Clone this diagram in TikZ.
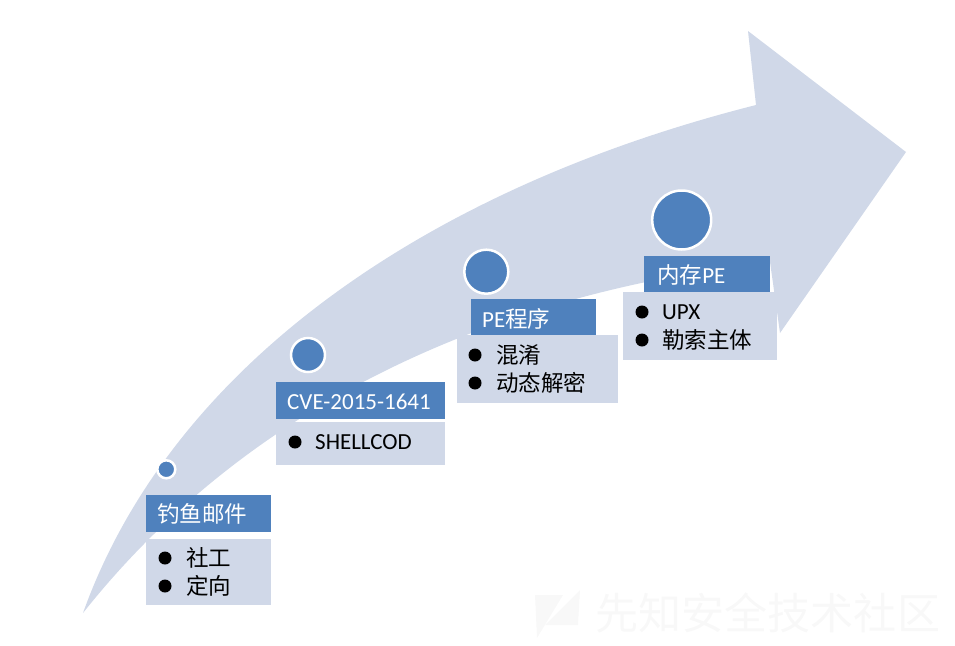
\documentclass[tikz,border=0pt]{standalone}
\usepackage{fontspec}
\setmainfont{Carlito}
\newfontfamily\cjk{Noto Sans CJK SC}[Scale=0.98]
\usetikzlibrary{calc, positioning}
\definecolor{stepBlue}{HTML}{4F81BD}
\definecolor{stepPale}{HTML}{D0D8E8}
\definecolor{markFaint}{HTML}{F8F8F8}
\tikzset{
    headBox/.style={rectangle, fill=stepBlue, inner sep=0pt, anchor=north west},
    bodyBox/.style={rectangle, fill=stepPale, inner sep=0pt, anchor=north west},
    headText/.style={anchor=west, inner sep=0pt, text=white, font=\fontsize{23}{25}\selectfont},
    bodyText/.style={anchor=west, inner sep=0pt, text=black, font=\fontsize{23}{25}\selectfont},
    stepDot/.style={circle, fill=stepBlue, draw=white, line width=2.5pt, inner sep=0pt},
    bulletDot/.style={circle, fill=black, inner sep=0pt, minimum size=13pt},
}
% name, x, y, width, height
\newcommand{\drawHead}[5]{
    \node[headBox, minimum width=#4pt, minimum height=#5pt] (#1) at (#2, #3) {};
}
\newcommand{\drawBody}[5]{
    \node[bodyBox, minimum width=#4pt, minimum height=#5pt] (#1) at (#2, #3) {};
}
% name, bullet x, text x, y, text
\newcommand{\drawItem}[5]{
    \node[bulletDot] (#1Dot) at (#2, #4) {};
    \node[bodyText] (#1Text) at (#3, #4) {#5};
}

\begin{document}
\begin{tikzpicture}[x=1pt, y=-1pt]
        \useasboundingbox (0, 0) rectangle (955, 645);

        % big arrow
        \fill[stepPale] (83, 613) .. controls (170, 370) and (420, 190) .. (756, 105)
            -- (748, 31) -- (906, 152) -- (780, 333) -- (770, 262)
            .. controls (440, 300) and (220, 440) .. cycle;

        % watermark
        \fill[markFaint] (535, 595) -- (563, 595) -- (537, 638) -- cycle;
        \fill[markFaint] (580, 590) -- (578, 625) -- (545, 625) -- cycle;
        \node[anchor=west, inner sep=0pt, text=markFaint, font=\cjk\fontsize{44}{46}\selectfont] (mark) at (595, 613) {先知安全技术社区};

        % phishing
        \node[stepDot, minimum size=18pt] (dotA) at (166.3, 469.3) {};
        \drawHead{headA}{146}{495}{125}{37}
        \drawBody{bodyA}{146}{539}{125}{66}
        \node[headText] (titleA) at (157, 514) {\cjk 钓鱼邮件};
        \drawItem{itemAa}{165}{186}{558}{\cjk 社工}
        \drawItem{itemAb}{165}{186}{586}{\cjk 定向}

        % exploit
        \node[stepDot, minimum size=34pt] (dotB) at (308, 355) {};
        \drawHead{headB}{276}{382}{169}{37}
        \drawBody{bodyB}{276}{422}{169}{43}
        \node[headText] (titleB) at (287, 402) {CVE-2015-1641};
        \drawItem{itemBa}{295}{315}{442}{SHELLCOD}

        % dropper
        \node[stepDot, minimum size=44pt] (dotC) at (486.3, 271.7) {};
        \drawHead{headC}{471}{299}{125}{37}
        \drawBody{bodyC}{457}{335}{161}{68}
        \node[headText] (titleC) at (482, 319) {PE\cjk 程序};
        \drawItem{itemCa}{475}{496}{355}{\cjk 混淆}
        \drawItem{itemCb}{475}{496}{383}{\cjk 动态解密}

        % payload
        \node[stepDot, minimum size=59pt] (dotD) at (681.7, 220) {};
        \drawHead{headD}{644}{256}{126}{36}
        \drawBody{bodyD}{623}{292}{154}{68}
        \node[headText] (titleD) at (657, 275) {\cjk 内存\rmfamily PE};
        \drawItem{itemDa}{642}{662}{312}{UPX}
        \drawItem{itemDb}{642}{662}{340}{\cjk 勒索主体}

    \end{tikzpicture}
\end{document}
